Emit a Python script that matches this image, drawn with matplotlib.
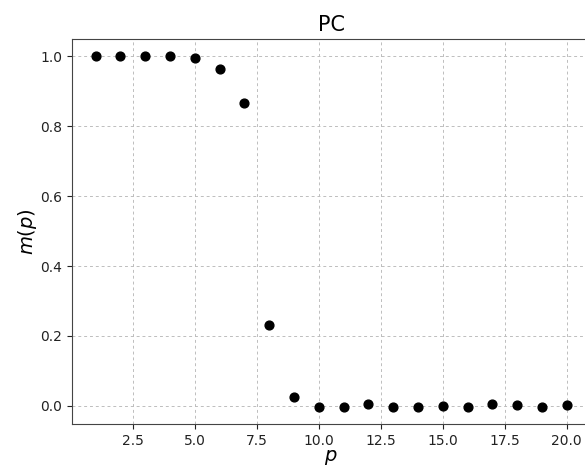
import matplotlib.pyplot as plt

p = list(range(1, 21))
m = [1.0, 1.0, 1.0, 1.0, 0.997, 0.965, 0.866, 0.232, 0.026, -0.002,
     -0.002, 0.005, -0.002, -0.002, -0.001, -0.002, 0.005, 0.002, -0.002, 0.001]


def main():
    fig = plt.figure(figsize=(5.85, 4.67), dpi=100)
    ax = fig.add_axes([0.123, 0.092, 0.886, 0.8245])
    ax.scatter(p, m, s=40, color='black', zorder=3)
    ax.grid(True, linestyle=(0, (3, 3)), color='#bdbdbd', linewidth=0.7)
    ax.set_title('PC', fontsize=15)
    ax.set_xlabel('$p$', fontsize=14, labelpad=0)
    ax.set_ylabel('$m(p)$', fontsize=14, labelpad=1)
    for s in ax.spines.values():
        s.set_color('#444444')
    ax.spines['right'].set_visible(False)
    ax.tick_params(colors='#222222', labelsize=10)
    fig.savefig('out.png', dpi=100)


if __name__ == '__main__':
    main()
